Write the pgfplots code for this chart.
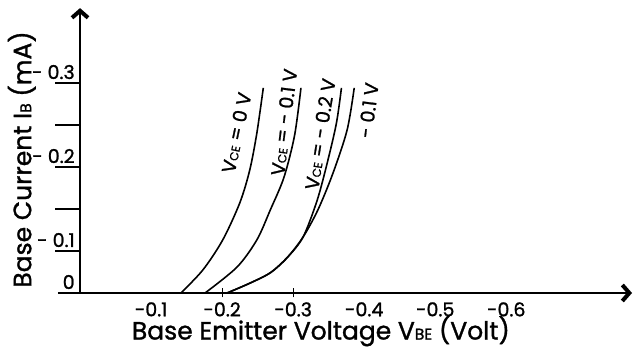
\documentclass[border=0pt]{standalone}
\usepackage{fontspec}
\setmainfont{Poppins}[FakeBold=1.2]
\usepackage{graphicx}
\usepackage{pgfplots}
\pgfplotsset{compat=1.18}
\usetikzlibrary{arrows.meta}
\newcommand{\sm}[1]{\scalebox{0.62}{#1}}

\begin{document}
\begin{tikzpicture}[x=1pt,y=1pt]
\useasboundingbox (-58,-54) rectangle (576,293);
\begin{axis}[
  at={(0,0)}, anchor=south west,
  scale only axis, width=574pt, height=283.5pt,
  xmin=-0.031, xmax=0.777, ymin=0, ymax=0.405,
  axis lines=middle,
  axis line style={draw=none},
  clip=false,
  hide obscured x ticks=false, hide obscured y ticks=false,
  xtick={0.1,0.2,0.3,0.4,0.5,0.6},
  xticklabels={-0.1,-0.2,-0.3,-0.4,-0.5,-0.6},
  xtick style={draw=none},
  ytick={0,0.06,0.18,0.3},
  yticklabels={0,- 0.1,- 0.2,- 0.3},
  ytick style={draw=none},
  extra x ticks={0.2,0.3},
  extra x tick labels={},
  extra x tick style={xtick style={draw=black,line width=1pt}, major tick length=9pt, tick align=center},
  extra y ticks={0.06,0.12,0.18,0.24,0.3},
  extra y tick labels={},
  extra y tick style={ytick style={draw=black,line width=1.3pt}, major tick length=25pt, tick align=outside},
  xticklabel style={font=\fontsize{19}{19}\selectfont, anchor=north, inner sep=0pt, yshift=-7pt},
  yticklabel style={font=\fontsize{19}{19}\selectfont, anchor=base east, inner sep=0pt, xshift=-3pt, yshift=4pt},
  xlabel={Base Emitter Voltage V\sm{BE} (Volt)},
  ylabel={Base Current I\sm{B} (mA)},
  xlabel style={font=\fontsize{25}{25}\selectfont, at={(axis description cs:0.458,0)}, anchor=north, inner sep=0pt, yshift=-23pt},
  ylabel style={font=\fontsize{25}{25}\selectfont, at={(axis description cs:-0.063,0.471)}, anchor=center, rotate=90, inner sep=0pt},
]
\draw[line width=2.2pt, -{Straight Barb[length=7pt,width=16pt,line width=4pt]}] (axis cs:-0.031,0) -- (axis cs:0.777,0);
\draw[line width=2.2pt, -{Straight Barb[length=7pt,width=16pt,line width=4pt]}] (axis cs:0,0) -- (axis cs:0,0.407);
\addplot[black, line width=1.6pt, smooth] coordinates {(0.142,0) (0.173,0.033) (0.201,0.076) (0.225,0.129) (0.239,0.176) (0.249,0.229) (0.258,0.293)};
\addplot[black, line width=1.6pt, smooth] coordinates {(0.176,0) (0.221,0.037) (0.249,0.076) (0.268,0.119) (0.287,0.165) (0.302,0.225) (0.311,0.293)};
\addplot[black, line width=1.6pt, smooth] coordinates {(0.207,0) (0.239,0.014) (0.268,0.029) (0.292,0.051) (0.314,0.080) (0.334,0.133) (0.349,0.190) (0.361,0.243) (0.368,0.293)};
\addplot[black, line width=1.6pt, smooth] coordinates {(0.207,0) (0.239,0.014) (0.268,0.029) (0.292,0.051) (0.314,0.080) (0.335,0.119) (0.356,0.171) (0.376,0.233) (0.386,0.293)};
\node[rotate=78, font=\fontsize{19}{19}\selectfont] at (axis cs:0.220,0.229) {V\sm{CE} = 0 V};
\node[rotate=83, font=\fontsize{19}{19}\selectfont] at (axis cs:0.287,0.244) {V\sm{CE} = - 0.1 V};
\node[rotate=81, font=\fontsize{19}{19}\selectfont] at (axis cs:0.338,0.227) {V\sm{CE} = - 0.2 V};
\node[rotate=83, font=\fontsize{19}{19}\selectfont] at (axis cs:0.406,0.261) {- 0.1 V};
\end{axis}
\end{tikzpicture}
\end{document}
